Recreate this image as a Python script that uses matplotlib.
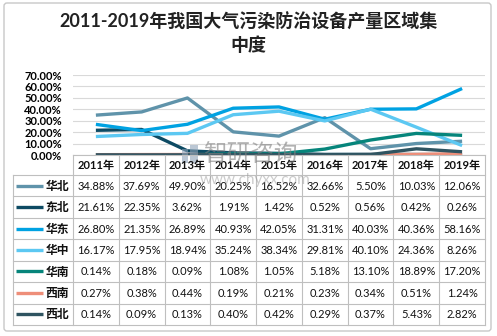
import matplotlib
matplotlib.use("Agg")
import matplotlib.pyplot as plt
from matplotlib.patches import FancyBboxPatch, Rectangle

years = ['2011年', '2012年', '2013年', '2014年', '2015年', '2016年', '2017年', '2018年', '2019年']
regions = ['华北', '东北', '华东', '华中', '华南', '西南', '西北']
huabei = [34.88, 37.69, 49.90, 20.25, 16.52, 32.66, 5.50, 10.03, 12.06]
dongbei = [21.61, 22.35, 3.62, 1.91, 1.42, 0.52, 0.56, 0.42, 0.26]
huadong = [26.80, 21.35, 26.89, 40.93, 42.05, 31.31, 40.03, 40.36, 58.16]
huazhong = [16.17, 17.95, 18.94, 35.24, 38.34, 29.81, 40.10, 24.36, 8.26]
huanan = [0.14, 0.18, 0.09, 1.08, 1.05, 5.18, 13.10, 18.89, 17.20]
xinan = [0.27, 0.38, 0.44, 0.19, 0.21, 0.23, 0.34, 0.51, 1.24]
xibei = [0.14, 0.09, 0.13, 0.40, 0.42, 0.29, 0.37, 5.43, 2.82]
series = [huabei, dongbei, huadong, huazhong, huanan, xinan, xibei]
colors = ['#5F93AA', '#0D4A63', '#00A2E2', '#5CC8F2', '#06857B', '#EE8E79', '#2F5461']
yticks = [0, 10, 20, 30, 40, 50, 60, 70]

plt.rcParams['font.family'] = ['Lato', 'Noto Sans CJK SC', 'DejaVu Sans']

W, H = 497, 336
fig = plt.figure(figsize=(W / 100, H / 100), dpi=100)

# plot area geometry (pixels)
L, R, T, B = 73, 485, 75, 155
ax = fig.add_axes([L / W, 1 - B / H, (R - L) / W, (B - T) / H])
x = list(range(len(years)))
draw_order = [6, 5, 4, 1, 0, 3, 2]
for i in draw_order:
    ax.plot(x, series[i], color=colors[i], lw=2.4, solid_capstyle='butt', zorder=3 + i * 0.01)
ax.set_xlim(-0.5, len(years) - 0.5)
ax.set_ylim(0, 70)
ax.set_yticks(yticks)
ax.set_yticklabels([f"{v:.2f}%" for v in yticks], fontsize=8, fontweight='bold')
ax.tick_params(axis='y', length=0, pad=8)
ax.set_xticks([])
ax.grid(axis='y', color='#D9D9D9', lw=0.8)
ax.set_axisbelow(True)
for s in ax.spines.values():
    s.set_visible(False)
ax.patch.set_alpha(0)

# overlay for table, border, title
ov = fig.add_axes([0, 0, 1, 1])
ov.set_xlim(0, W)
ov.set_ylim(H, 0)
ov.axis('off')
ov.patch.set_alpha(0)

ov.add_patch(FancyBboxPatch((4, 3), 487, 328, boxstyle='round,pad=0,rounding_size=3',
                            ec='#C8C8C8', fc='none', lw=1))

fig.text(248 / W, 1 - 22 / H, '2011-2019年我国大气污染防治设备产量区域集', ha='center', va='center',
         fontsize=13, fontweight='bold', color='#222222')
fig.text(248 / W, 1 - 45 / H, '中度', ha='center', va='center',
         fontsize=13, fontweight='bold', color='#222222')

gc = '#BFBFBF'
colw = (R - L) / len(years)
hdr_top, hdr_bot = 155, 175
rowh = (325 - 175) / len(regions)
tl = 13
# header
ov.plot([L, R], [hdr_top, hdr_top], color=gc, lw=0.8)
for j in range(len(years) + 1):
    xx = L + j * colw
    ov.plot([xx, xx], [hdr_top, 325], color=gc, lw=0.8)
for j, yr in enumerate(years):
    ov.text(L + (j + 0.5) * colw, (hdr_top + hdr_bot) / 2 + 0.5, yr, ha='center', va='center',
            fontsize=8, fontweight='bold', color='#111111')
for r in range(len(regions) + 1):
    yy = hdr_bot + r * rowh
    ov.plot([tl, R], [yy, yy], color=gc, lw=0.8)
ov.plot([tl, tl], [hdr_bot, 325], color=gc, lw=0.8)
for r, name in enumerate(regions):
    yc = hdr_bot + (r + 0.5) * rowh
    ov.plot([16, 43], [yc, yc], color=colors[r], lw=2.4, solid_capstyle='butt')
    ov.text(57, yc + 0.5, name, ha='center', va='center', fontsize=8.5, fontweight='bold', color='#111111')
    for j, v in enumerate(series[r]):
        ov.text(L + (j + 0.5) * colw, yc + 0.5, f"{v:.2f}%", ha='center', va='center',
                fontsize=8, color='#111111')

# watermark
ov.add_patch(Rectangle((182, 149), 6, 14, fc='#8FA3B8', ec='none', alpha=0.6))
ov.add_patch(Rectangle((190, 145), 8, 18, fc='#8FA3B8', ec='none', alpha=0.6))
ov.text(203, 155, '智研咨询', ha='left', va='center', fontsize=17, color='#808080', alpha=0.6,
        family=['Noto Sans CJK SC'])
ov.text(255, 180, 'www.chyxx.com', ha='center', va='center', fontsize=11, color='#999999', alpha=0.5)

fig.savefig('out.png', dpi=100)
